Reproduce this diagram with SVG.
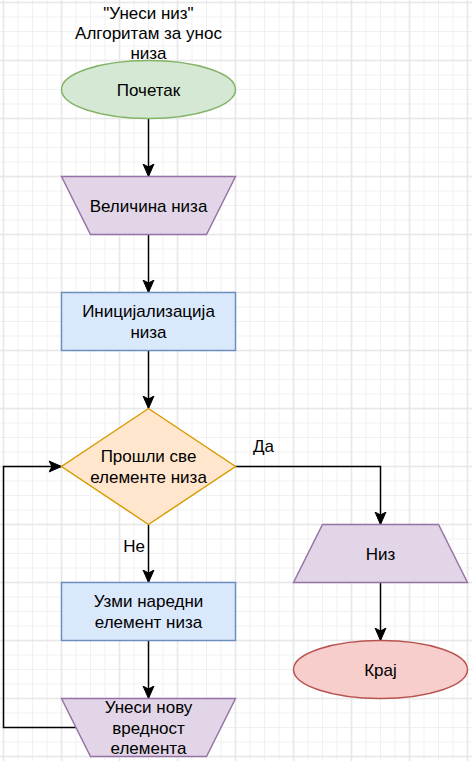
<svg xmlns="http://www.w3.org/2000/svg" width="472" height="761" viewBox="0 0 472 761">
  <defs>
    <pattern id="gMinor" patternUnits="userSpaceOnUse" x="-3.75" y="-4.75" width="14.5" height="14.5">
      <path d="M7.25,0 V14.5 M0,7.25 H14.5" stroke="#f0f0f0" stroke-width="1" fill="none"/>
    </pattern>
    <pattern id="gMajor" patternUnits="userSpaceOnUse" x="-25.5" y="-26.5" width="58" height="58">
      <path d="M29,0 V58 M0,29 H58" stroke="#e0e0e0" stroke-width="1" fill="none"/>
    </pattern>
    <marker id="arrow" markerUnits="userSpaceOnUse" markerWidth="14" markerHeight="14" viewBox="-13 -7 14 14" refX="0" refY="0" orient="auto">
      <path d="M0,0 L-12.5,-5.5 L-9.5,0 L-12.5,5.5 Z" fill="#000" stroke="#000" stroke-width="1"/>
    </marker>
    <style>
      .t { font-family: "Liberation Sans", Arial, sans-serif; font-size: 17px; fill: #000; text-anchor: middle; }
      .edge { fill: none; stroke: #000; stroke-width: 1.5; }
      .green { fill: #d5e8d4; stroke: #82b366; stroke-width: 1.45; }
      .purple { fill: #e1d5e7; stroke: #9673a6; stroke-width: 1.45; }
      .blue { fill: #dae8fc; stroke: #6c8ebf; stroke-width: 1.45; }
      .orange { fill: #ffe6cc; stroke: #d79b00; stroke-width: 1.45; }
      .red { fill: #f8cecc; stroke: #b85450; stroke-width: 1.45; }
    </style>
  </defs>
  <rect x="0" y="0" width="472" height="761" fill="#ffffff"/>
  <rect x="0" y="0" width="472" height="761" fill="url(#gMinor)"/>
  <rect x="0" y="0" width="472" height="761" fill="url(#gMajor)"/>

  <g id="title">
    <text class="t" x="148.5" y="18.5">"Унеси низ"</text>
    <text class="t" x="148.5" y="38.5">Алгоритам за унос</text>
    <text class="t" x="148.5" y="58.5">низа</text>
  </g>

  <g id="connectors">
    <path class="edge" d="M148.5,118.5 V176.5" marker-end="url(#arrow)"/>
    <path class="edge" d="M148.5,234.5 V292.5" marker-end="url(#arrow)"/>
    <path class="edge" d="M148.5,350.5 V408.5" marker-end="url(#arrow)"/>
    <path class="edge" d="M148.5,524.5 V582.5" marker-end="url(#arrow)"/>
    <path class="edge" d="M148.5,640.5 V698.5" marker-end="url(#arrow)"/>
    <path class="edge" d="M235.5,466.5 H380.5 V524.5" marker-end="url(#arrow)"/>
    <path class="edge" d="M380.5,582.5 V640.5" marker-end="url(#arrow)"/>
    <path class="edge" d="M76,727.5 H3.5 V466.5 H61.5" marker-end="url(#arrow)"/>
    <text class="t" x="263.5" y="452">Да</text>
    <text class="t" x="134" y="552">Не</text>
  </g>

  <g id="start">
    <ellipse class="green" cx="148.5" cy="89.5" rx="87" ry="29"/>
    <text class="t" x="148.5" y="95.5">Почетак</text>
  </g>

  <g id="input-size">
    <polygon class="purple" points="61.5,176.5 235.5,176.5 206.5,234.5 90.5,234.5"/>
    <text class="t" x="148.5" y="211.5">Величина низа</text>
  </g>

  <g id="init">
    <rect class="blue" x="61.5" y="292.5" width="174" height="58"/>
    <text class="t" x="148.5" y="317.3">Иницијализација</text>
    <text class="t" x="148.5" y="337.8">низа</text>
  </g>

  <g id="decision">
    <polygon class="orange" points="148.5,408.5 235.5,466.5 148.5,524.5 61.5,466.5"/>
    <text class="t" x="148.5" y="462.3">Прошли све</text>
    <text class="t" x="148.5" y="482.8">елементе низа</text>
  </g>

  <g id="next">
    <rect class="blue" x="61.5" y="582.5" width="174" height="58"/>
    <text class="t" x="148.5" y="607.3">Узми наредни</text>
    <text class="t" x="148.5" y="627.8">елемент низа</text>
  </g>

  <g id="input-value">
    <polygon class="purple" points="61.5,698.5 235.5,698.5 206.5,756.5 90.5,756.5"/>
    <text class="t" x="148.5" y="713">Унеси нову</text>
    <text class="t" x="148.5" y="733.5">вредност</text>
    <text class="t" x="148.5" y="754">елемента</text>
  </g>

  <g id="output">
    <polygon class="purple" points="322.5,524.5 438.5,524.5 467.5,582.5 293.5,582.5"/>
    <text class="t" x="380.5" y="559.5">Низ</text>
  </g>

  <g id="end">
    <ellipse class="red" cx="380.5" cy="669.5" rx="87" ry="29"/>
    <text class="t" x="380.5" y="675.5">Крај</text>
  </g>
</svg>
